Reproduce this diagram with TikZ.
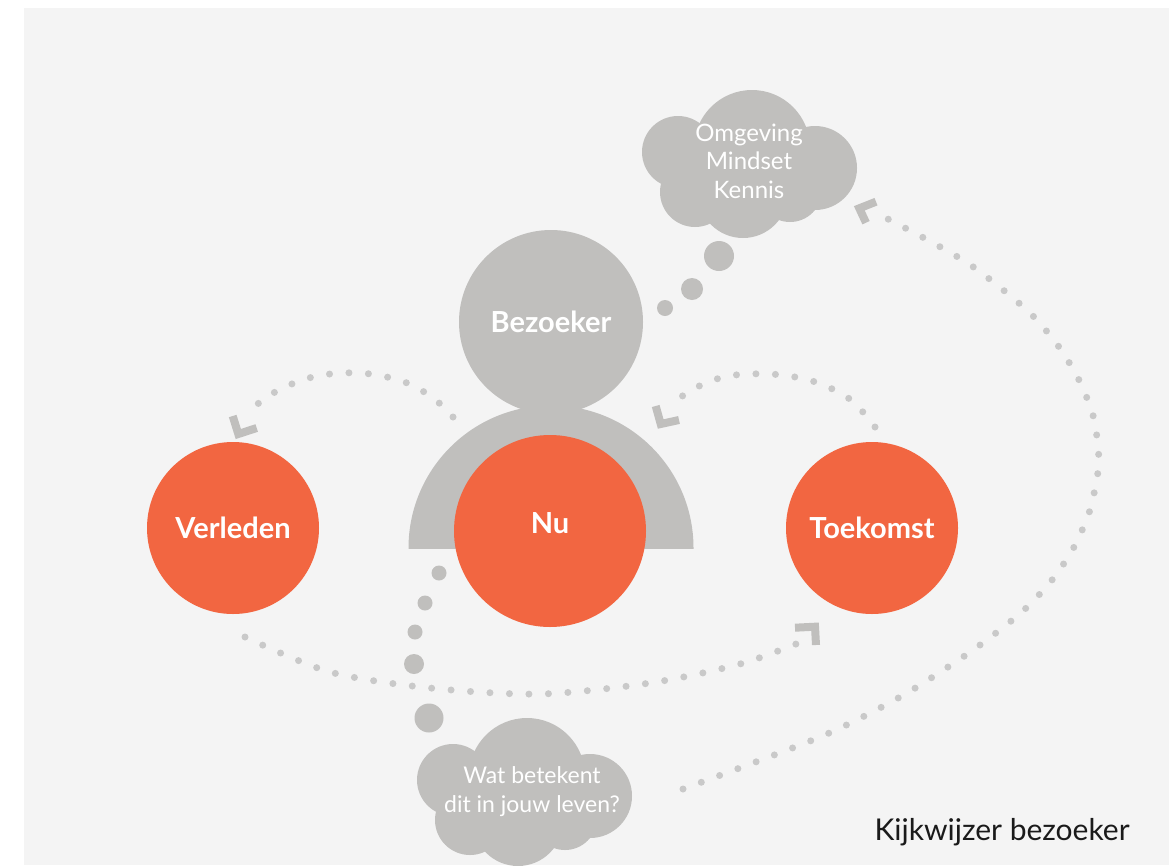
\documentclass[tikz,border=0pt]{standalone}
\usepackage{fontspec}
\setmainfont{Lato}
\definecolor{bg}{HTML}{F4F4F4}
\definecolor{cgray}{HTML}{C0BFBD}
\definecolor{dotgray}{HTML}{C9C9C9}
\definecolor{orng}{HTML}{F26641}
\definecolor{captxt}{HTML}{1A1A1A}
\begin{document}
\begin{tikzpicture}[x=1pt,y=-1pt,
  dotline/.style={draw=dotgray, line width=7pt, line cap=round, dash pattern=on 0pt off 19.5pt},
  chev/.style={draw=cgray, line width=8pt, line cap=butt, line join=miter},
  orb/.style={circle, fill=orng, text=white, font=\bfseries\fontsize{29}{33}\selectfont, inner sep=0pt},
  headnode/.style={circle, fill=cgray, text=white, font=\bfseries\fontsize{29}{33}\selectfont, inner sep=0pt},
  bubble/.style={circle, fill=cgray, inner sep=0pt},
  cloudtxt/.style={text=white, font=\fontsize{24}{28}\selectfont, anchor=base},
  caption/.style={text=captxt, font=\fontsize{30}{34}\selectfont, anchor=base west}
]
\useasboundingbox (0,0) rectangle (1169,865);
\fill[white] (0,0) rectangle (1169,865);
\fill[bg] (24,8) rectangle (1169,865);

% top cloud
\begin{scope}
\fill[cgray] (678,152) circle[radius=36pt];
\fill[cgray] (752,148) circle[radius=58pt];
\fill[cgray] (815,168) circle[radius=42pt];
\fill[cgray] (790,190) circle[radius=32pt];
\fill[cgray] (743,193) circle[radius=45pt];
\fill[cgray] (695,192) circle[radius=35pt];
\end{scope}
\node[cloudtxt] (t1) at (749,141) {Omgeving};
\node[cloudtxt] (t2) at (749,169) {Mindset};
\node[cloudtxt] (t3) at (749,198) {Kennis};

% bottom cloud
\begin{scope}[shift={(-225,628)}]
\fill[cgray] (678,152) circle[radius=36pt];
\fill[cgray] (752,148) circle[radius=58pt];
\fill[cgray] (815,168) circle[radius=42pt];
\fill[cgray] (790,190) circle[radius=32pt];
\fill[cgray] (743,193) circle[radius=45pt];
\fill[cgray] (695,192) circle[radius=35pt];
\end{scope}
\node[cloudtxt, font=\fontsize{23}{28}\selectfont] (b1) at (532,783) {Wat betekent};
\node[cloudtxt, font=\fontsize{23}{28}\selectfont] (b2) at (532,812) {dit in jouw leven?};

% thought bubbles (top)
\node[bubble, minimum size=30pt] (tb1) at (719,256) {};
\node[bubble, minimum size=22pt] (tb2) at (692,289) {};
\node[bubble, minimum size=16pt] (tb3) at (665,308) {};

% dotted arcs
\draw[dotline] plot[smooth] coordinates {(453,417) (438,402) (421,390) (402,381) (382,376) (362,373) (343,373) (322,375) (302,380) (283,388) (265,398) (250,411)};
\draw[chev] (232.7,416) -- (238.3,434) -- (256.7,428);

\draw[dotline] plot[smooth] coordinates {(875,427) (862,411) (847,397) (828,387) (809,380) (789,376) (770,374) (749,374) (728,376) (708,382) (690,391) (674,402)};
\draw[chev] (655.7,406) -- (660.7,424) -- (679,420);

\draw[dotline] plot[smooth] coordinates {(245,637) (330,672) (430,688) (540,694) (650,683) (740,664) (801,642)};
\draw[chev] (795,627.7) -- (815,626.7) -- (816,645);

\draw[dotline] plot[smooth] coordinates {(683,789) (820,737) (900,697) (960,659) (992,636) (1024,610) (1052,580) (1074,547) (1090,510) (1098,472) (1099,459) (1094,419) (1080,382) (1059,347) (1033,316) (1002,289) (969,264) (932.7,242.7) (895,222.7) (880,215)};
\draw[chev] (876,201.7) -- (859.3,208.3) -- (866,222.7);

% person
\node[headnode, minimum size=184pt] (head) at (551,322) {Bezoeker};
\begin{scope}
\clip (400,390) rectangle (700,548);
\fill[cgray] (551,548) circle[radius=142.5pt];
\end{scope}
\coordinate (body) at (551,548);

% time circles
\node[orb, minimum size=192pt] (nu) at (550,531) {};
\node[text=white, font=\bfseries\fontsize{29}{33}\selectfont] (nutxt) at (550,523) {Nu};
\node[orb, minimum size=172pt] (verleden) at (233,528) {Verleden};
\node[orb, minimum size=172pt] (toekomst) at (872,528) {Toekomst};

% thought bubbles (bottom)
\node[bubble, minimum size=15pt] (bb1) at (439,573) {};
\node[bubble, minimum size=15pt] (bb2) at (425,603) {};
\node[bubble, minimum size=15pt] (bb3) at (415,632) {};
\node[bubble, minimum size=20pt] (bb4) at (414,664) {};
\node[bubble, minimum size=29pt] (bb5) at (429,718) {};

\node[caption] (cap) at (871,840) {Kijkwijzer bezoeker};
\end{tikzpicture}
\end{document}
